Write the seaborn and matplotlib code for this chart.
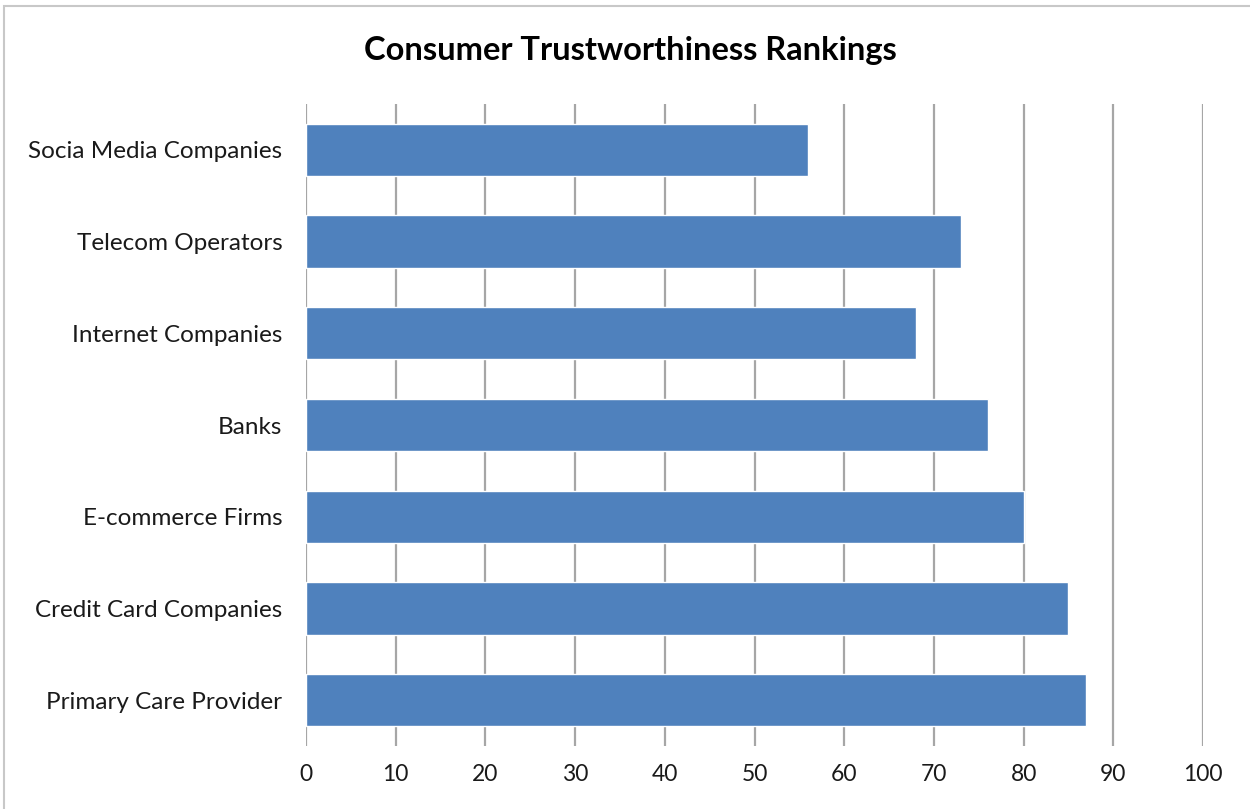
import matplotlib
matplotlib.use("Agg")
import matplotlib.pyplot as plt
import seaborn as sns
import pandas as pd
from matplotlib.patches import Rectangle

# Data (top to bottom)
categories = [
    "Socia Media Companies",
    "Telecom Operators",
    "Internet Companies",
    "Banks",
    "E-commerce Firms",
    "Credit Card Companies",
    "Primary Care Provider",
]
scores = [56, 73, 68, 76, 80, 85, 87]
x_ticks = [0, 10, 20, 30, 40, 50, 60, 70, 80, 90, 100]

df = pd.DataFrame({"category": categories, "score": scores})

sns.set_style("white")
plt.rcParams["font.family"] = ["Lato", "DejaVu Sans"]

fig = plt.figure(figsize=(12.5, 8.09), dpi=100)
ax = fig.add_axes([0.2448, 0.0779, 0.7176, 0.7935])

sns.barplot(data=df, x="score", y="category", color="#4F81BD",
            saturation=1, width=0.57, ax=ax, zorder=3)

ax.set_xlim(0, 100)
ax.set_ylim(6.5, -0.5)
ax.set_xticks(x_ticks)
ax.xaxis.grid(True, color="#a6a6a6", linewidth=1.6, zorder=0)
ax.set_axisbelow(True)
for s in ax.spines.values():
    s.set_visible(False)
ax.tick_params(axis="x", length=0, pad=13, labelsize=16.5, colors="#1a1a1a")
ax.tick_params(axis="y", length=0, pad=17, labelsize=17.5, colors="#1a1a1a")
ax.set_xlabel("")
ax.set_ylabel("")

fig.text(0.504, 0.937, "Consumer Trustworthiness Rankings", ha="center",
         va="center", fontsize=23.5, fontweight="bold", color="black")

# light frame around the chart area
fig.patches.append(Rectangle((0.003, -0.01), 1.1, 1.003, transform=fig.transFigure,
                             fill=False, edgecolor="#c8c8c8", linewidth=1.5))

fig.savefig("out.png", dpi=100)
